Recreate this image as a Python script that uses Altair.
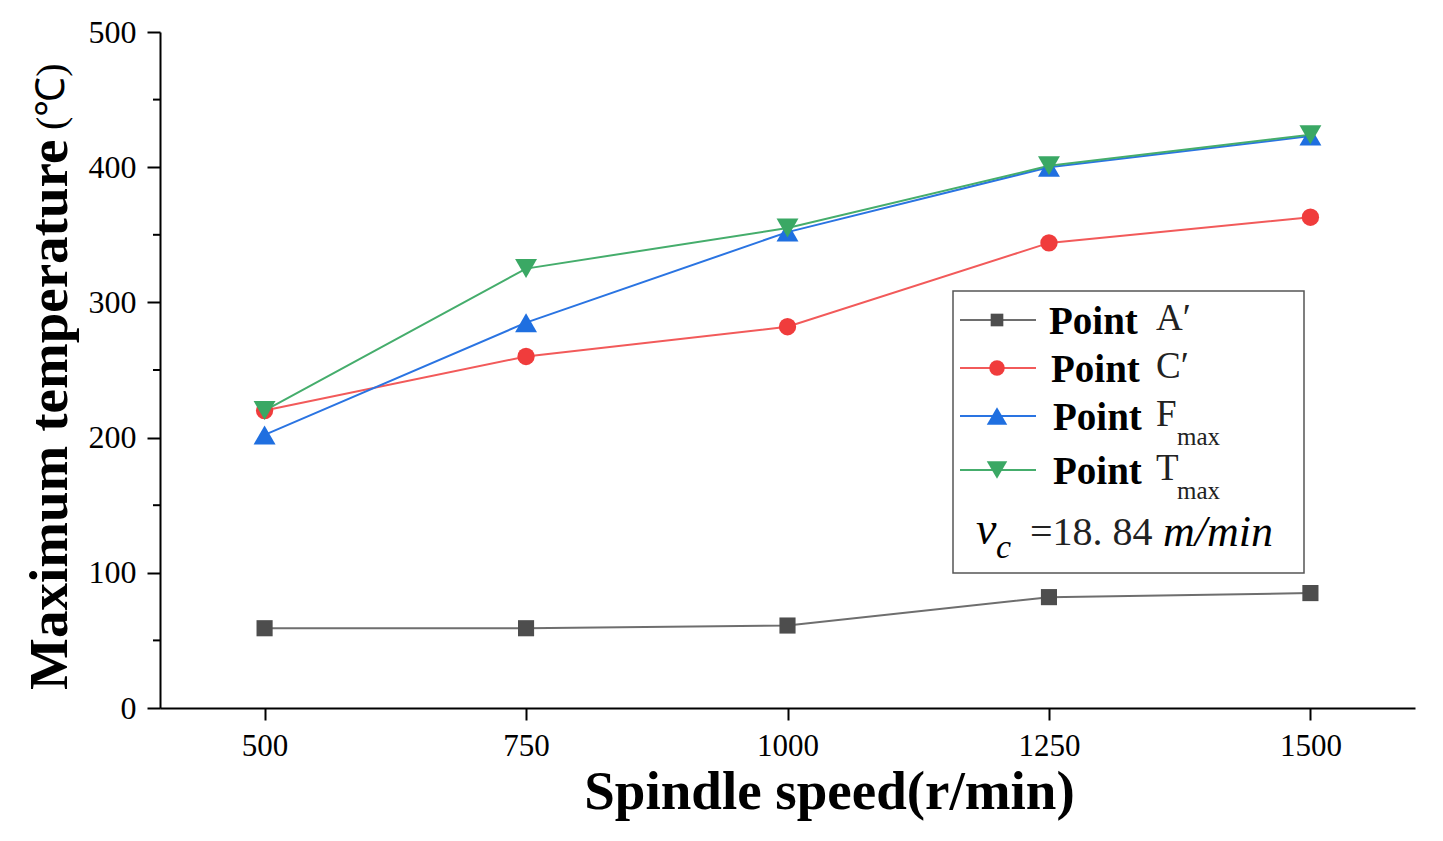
import altair as alt
import pandas as pd

speeds = [500, 750, 1000, 1250, 1500]
point_a = [59, 59, 61, 82, 85]
point_c = [220, 260, 282, 344, 363]
point_f = [202, 285, 352, 400, 423]
point_t = [220, 325, 355, 401, 424]

series_names = ["A", "C", "F", "T"]
series_vals = [point_a, point_c, point_f, point_t]
colors = ["#4d4d4d", "#f03c3c", "#1f6fe0", "#3aa864"]
line_colors = ["#6e6e6e", "#f25a5a", "#2a74e2", "#45ad6c"]
shapes = ["square", "circle", "triangle-up", "triangle-down"]
marker_sizes = [260, 300, 480, 480]
legend_sizes = [160, 240, 420, 420]
legend_main = ["A\u2032", "C\u2032", "F", "T"]
legend_sub = ["", "", "max", "max"]

y_ticks = [0, 100, 200, 300, 400, 500]
y_minor = [50, 150, 250, 350, 450]
x_ticks = [500, 750, 1000, 1250, 1500]

rows = []
for name, vals in zip(series_names, series_vals):
    for s, v in zip(speeds, vals):
        rows.append({"speed": s, "temp": v, "series": name})
df = pd.DataFrame(rows)

W, H = 1255, 676
SERIF = "Liberation Serif"

xs = alt.X("speed:Q", scale=alt.Scale(domain=[400, 1600], nice=False, zero=False),
           axis=alt.Axis(values=x_ticks, title="Spindle speed(r/min)", grid=False,
                         tickSize=12, tickWidth=2, tickColor="black", domainColor="black",
                         domainWidth=2, labelFont=SERIF, labelFontSize=31, labelPadding=11,
                         labelColor="black", titleFont=SERIF, titleFontSize=55,
                         titleFontWeight="bold", titleColor="black", titlePadding=4,
                         titleX=669, format="d"))
ys = alt.Y("temp:Q", scale=alt.Scale(domain=[0, 500], nice=False),
           axis=alt.Axis(values=y_ticks, title=None, grid=False,
                         tickSize=13, tickWidth=2, tickColor="black", domainColor="black",
                         domainWidth=2, labelFont=SERIF, labelFontSize=32, labelPadding=11,
                         labelColor="black"))

color = alt.Color("series:N", scale=alt.Scale(domain=series_names, range=line_colors), legend=None)

base = alt.Chart(df)
lines = base.mark_line(strokeWidth=2).encode(x=xs, y=ys, color=color, detail="series:N")
layers = [lines]
for i, name in enumerate(series_names):
    layers.append(base.transform_filter(alt.datum.series == name).mark_point(
        filled=True, opacity=1, shape=shapes[i], size=marker_sizes[i], color=colors[i]).encode(
        x="speed:Q", y="temp:Q"))

minor = alt.Chart(pd.DataFrame({"v": y_minor})).mark_rule(color="black", strokeWidth=2).encode(
    y="v:Q", x=alt.value(-7), x2=alt.value(0))

one = alt.Chart(pd.DataFrame({"a": [0]}))

# y axis title (bold words, regular unit)
ytitle1 = one.mark_text(text="Maximum temperature", font=SERIF, fontSize=55, fontWeight="bold",
                        angle=270, align="left", baseline="middle", color="black").encode(
    x=alt.value(-110), y=alt.value(658))
ytitle2 = one.mark_text(text="(\u2103)", font=SERIF, fontSize=40, angle=270, align="left",
                        baseline="middle", color="black").encode(
    x=alt.value(-108), y=alt.value(98))

layers += [minor, ytitle1, ytitle2]

# legend box
box = one.mark_rect(fill="white", stroke="#555555", strokeWidth=1.5).encode(
    x=alt.value(793), x2=alt.value(1144), y=alt.value(259), y2=alt.value(541))
layers.append(box)

row_y = [288, 336, 384, 438]
text_x = [889, 891, 893, 893]
for i in range(4):
    layers.append(one.mark_rule(color=line_colors[i], strokeWidth=2).encode(
        x=alt.value(800), x2=alt.value(876), y=alt.value(row_y[i])))
    layers.append(one.mark_point(filled=True, size=legend_sizes[i], opacity=1, shape=shapes[i],
                                 color=colors[i]).encode(
        x=alt.value(837), y=alt.value(row_y[i])))
    layers.append(one.mark_text(text="Point", font=SERIF, fontSize=39, fontWeight="bold",
                                align="left", baseline="middle", color="black").encode(
        x=alt.value(text_x[i]), y=alt.value(row_y[i] + 2)))
    layers.append(one.mark_text(text=legend_main[i], font=SERIF, fontSize=37,
                                align="left", baseline="middle", color="#222222").encode(
        x=alt.value(996), y=alt.value(row_y[i] - 1)))
    if legend_sub[i]:
        layers.append(one.mark_text(text=legend_sub[i], font=SERIF, fontSize=25,
                                    align="left", baseline="middle", color="#222222").encode(
            x=alt.value(1017), y=alt.value(row_y[i] + 21)))

layers.append(one.mark_text(text="v", font=SERIF, fontSize=46, fontStyle="italic",
                            align="left", baseline="middle", color="black").encode(
    x=alt.value(816), y=alt.value(498)))
layers.append(one.mark_text(text="c", font=SERIF, fontSize=34, fontStyle="italic",
                            align="left", baseline="middle", color="black").encode(
    x=alt.value(836), y=alt.value(516)))
layers.append(one.mark_text(text="=18. 84", font=SERIF, fontSize=40,
                            align="left", baseline="middle", color="#222222").encode(
    x=alt.value(870), y=alt.value(501)))
layers.append(one.mark_text(text="m/min", font=SERIF, fontSize=44, fontStyle="italic",
                            align="left", baseline="middle", color="black").encode(
    x=alt.value(1003), y=alt.value(501)))

chart = alt.layer(*layers).properties(
    width=W, height=H, autosize="none", background="white",
    padding={"left": 152, "top": 24, "right": 20, "bottom": 120},
).configure_view(stroke="transparent", strokeWidth=0)

chart.save("out.html", embed_options={"renderer": "svg", "actions": False})
